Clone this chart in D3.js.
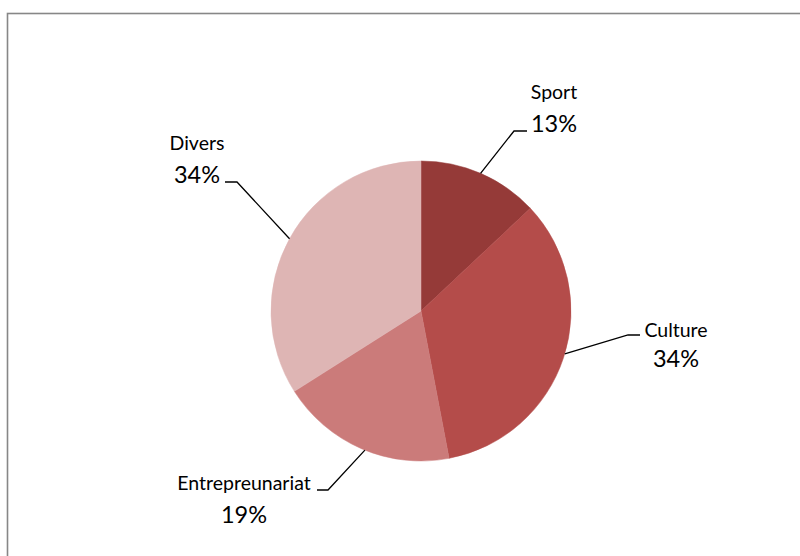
<!DOCTYPE html>
<html>
<head>
<meta charset="utf-8">
<script src="https://d3js.org/d3.v7.min.js"></script>
<style>
  html, body { margin: 0; padding: 0; background: #fff; }
  svg { display: block; }
</style>
</head>
<body>
<div id="chart"></div>
<script>
// Répartition par domaine
const categories = ["Sport", "Culture", "Entrepreunariat", "Divers"];
const values = [13, 34, 19, 34];
const percentLabels = ["13%", "34%", "19%", "34%"];
const colors = ["#953a38", "#b44c4a", "#cb7b7a", "#deb5b4"];

// Label placement: text centre, leader elbow and angle where the leader meets the arc
const labelLayout = [
  { x: 554, nameY: 99,  pctY: 132, elbow: [514, 131], end: [527, 131], angleFrac: 0.065 },
  { x: 676, nameY: 337, pctY: 367, elbow: [628, 335], end: [640, 335], angleFrac: 0.296 },
  { x: 244, nameY: 490, pctY: 523, elbow: [328, 490], end: [317, 490], angleFrac: 0.561 },
  { x: 197, nameY: 150, pctY: 183, elbow: [237, 182], end: [225, 182], angleFrac: 0.830 }
];

const width = 800, height = 556;
const cx = 421, cy = 311, radius = 150;

const svg = d3.select("#chart").append("svg")
  .attr("width", width)
  .attr("height", height);

// Chart area frame
svg.append("rect")
  .attr("x", 7.5).attr("y", 13.5)
  .attr("width", 820).attr("height", 600)
  .attr("fill", "#fff")
  .attr("stroke", "#878787")
  .attr("stroke-width", 1.6);

const pie = d3.pie().sort(null).value(d => d);
const arcs = pie(values);
const arc = d3.arc().innerRadius(0).outerRadius(radius);

const g = svg.append("g").attr("transform", `translate(${cx},${cy})`);

g.selectAll("path.slice")
  .data(arcs)
  .join("path")
  .attr("class", "slice")
  .attr("d", arc)
  .attr("fill", (d, i) => colors[i])
  .attr("stroke", (d, i) => colors[i])
  .attr("stroke-width", 0.5);

// Leader lines
const leaders = svg.append("g");
labelLayout.forEach((l, i) => {
  const a = l.angleFrac * 2 * Math.PI;
  const p0 = [cx + radius * Math.sin(a), cy - radius * Math.cos(a)];
  leaders.append("path")
    .attr("d", d3.line()([p0, l.elbow, l.end]))
    .attr("fill", "none")
    .attr("stroke", "#000")
    .attr("stroke-width", 1.3);
});

// Labels
const labels = svg.append("g")
  .attr("font-family", "Lato, 'Open Sans', sans-serif")
  .attr("fill", "#000")
  .attr("text-anchor", "middle");

labels.selectAll("text.name")
  .data(categories)
  .join("text")
  .attr("class", "name")
  .attr("x", (d, i) => labelLayout[i].x)
  .attr("y", (d, i) => labelLayout[i].nameY)
  .attr("font-size", 19.5)
  .text(d => d);

labels.selectAll("text.pct")
  .data(percentLabels)
  .join("text")
  .attr("class", "pct")
  .attr("x", (d, i) => labelLayout[i].x)
  .attr("y", (d, i) => labelLayout[i].pctY)
  .attr("font-size", 23.5)
  .text(d => d);
</script>
</body>
</html>
